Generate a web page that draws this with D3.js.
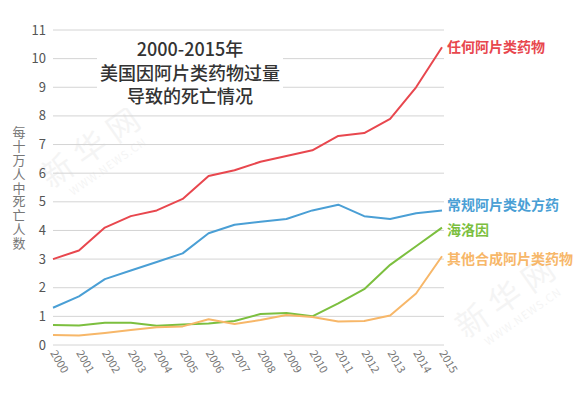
<!DOCTYPE html>
<html>
<head>
<meta charset="utf-8">
<script src="https://cdn.jsdelivr.net/npm/d3@7"></script>
<style>
  body { margin: 0; background: #fff; }
  text { font-family: "Noto Sans CJK SC", "Noto Sans", sans-serif; }
</style>
</head>
<body>
<div id="chart"></div>
<script>
// --------------------------------------
//  Data
// --------------------------------------
const years = [2000, 2001, 2002, 2003, 2004, 2005, 2006, 2007, 2008, 2009, 2010, 2011, 2012, 2013, 2014, 2015];
const anyOpioid = [3.0, 3.3, 4.1, 4.5, 4.7, 5.1, 5.9, 6.1, 6.4, 6.6, 6.8, 7.3, 7.4, 7.9, 9.0, 10.4];
const prescription = [1.3, 1.7, 2.3, 2.6, 2.9, 3.2, 3.9, 4.2, 4.3, 4.4, 4.7, 4.9, 4.5, 4.4, 4.6, 4.7];
const heroin = [0.7, 0.68, 0.78, 0.78, 0.67, 0.72, 0.75, 0.84, 1.08, 1.12, 1.0, 1.45, 1.95, 2.8, 3.45, 4.1];
const synthetic = [0.35, 0.33, 0.42, 0.52, 0.62, 0.65, 0.9, 0.73, 0.87, 1.05, 0.98, 0.82, 0.84, 1.03, 1.8, 3.1];
const seriesNames = ["任何阿片类药物", "常规阿片类处方药", "海洛因", "其他合成阿片类药物"];
const seriesColors = ["#e8474e", "#4a9fd5", "#7cbf3f", "#f7b769"];
const yTicks = [0, 1, 2, 3, 4, 5, 6, 7, 8, 9, 10, 11];
const titleLines = ["2000-2015年", "美国因阿片类药物过量", "导致的死亡情况"];
const yTitle = "每十万人中死亡人数";

const width = 580, height = 399;
const margin = {top: 30, right: 138, bottom: 54, left: 53};

// --------------------------------------
//  Canvas
// --------------------------------------
const svg = d3.select("#chart")
  .append("svg")
    .attr("width", width)
    .attr("height", height)
    .attr("viewBox", [0, 0, width, height]);

const x = d3.scalePoint()
    .domain(years)
    .range([margin.left, width - margin.right]);

const y = d3.scaleLinear()
    .domain([0, 11])
    .range([height - margin.bottom, margin.top]);

// watermarks
[[100, 155], [515, 305]].forEach(([wx, wy]) => {
  const g = svg.append("g")
      .attr("transform", `translate(${wx},${wy}) rotate(-35)`)
      .attr("fill", "#000")
      .attr("opacity", 0.04);
  g.append("text")
      .attr("text-anchor", "middle")
      .attr("font-size", 32)
      .attr("letter-spacing", 8)
      .text("新华网");
  g.append("text")
      .attr("y", 18)
      .attr("text-anchor", "middle")
      .attr("font-size", 11)
      .attr("letter-spacing", 1)
      .text("WWW.NEWS.CN");
});

// grid lines
svg.append("g")
  .selectAll("line")
  .data(yTicks)
  .join("line")
    .attr("x1", margin.left)
    .attr("x2", width - margin.right + 2)
    .attr("y1", d => y(d))
    .attr("y2", d => y(d))
    .attr("stroke", "#d4d4d4")
    .attr("stroke-width", 1);

// y tick labels
svg.append("g")
  .selectAll("text")
  .data(yTicks)
  .join("text")
    .attr("x", 46)
    .attr("y", d => y(d))
    .attr("dy", "0.35em")
    .attr("text-anchor", "end")
    .attr("font-family", "'Liberation Sans Narrow', 'DejaVu Sans Condensed', sans-serif")
    .attr("font-size", 13)
    .attr("fill", "#555")
    .text(d => d);

// y axis title (vertical)
svg.append("text")
    .attr("x", 19)
    .attr("y", 126)
    .attr("writing-mode", "vertical-rl")
    .attr("style", "writing-mode: vertical-rl; text-orientation: upright;")
    .attr("letter-spacing", 0.8)
    .attr("font-size", 13)
    .attr("fill", "#777")
    .text(yTitle);

// x labels
svg.append("g")
  .selectAll("text")
  .data(years)
  .join("text")
    .attr("transform", d => `translate(${x(d) - 3},${height - margin.bottom + 8}) rotate(60)`)
    .attr("font-family", "'Liberation Sans', Arial, sans-serif")
    .attr("font-size", 11)
    .attr("fill", "#777")
    .text(d => d);

// title box
svg.append("rect")
    .attr("x", 97)
    .attr("y", 36)
    .attr("width", 186)
    .attr("height", 72)
    .attr("fill", "#fff");

svg.append("g")
  .selectAll("text")
  .data(titleLines)
  .join("text")
    .attr("x", 190)
    .attr("y", (d, i) => 50 + i * 23.5)
    .attr("dy", "0.35em")
    .attr("text-anchor", "middle")
    .attr("font-size", 18)
    .attr("font-weight", 500)
    .attr("fill", "#333")
    .text(d => d);

// --------------------------------------
//  Lines
// --------------------------------------
const allSeries = [anyOpioid, prescription, heroin, synthetic];

const line = d3.line()
    .x((d, i) => x(years[i]))
    .y(d => y(d));

svg.append("g")
  .selectAll("path")
  .data(allSeries)
  .join("path")
    .attr("d", d => line(d))
    .attr("fill", "none")
    .attr("stroke", (d, i) => seriesColors[i])
    .attr("stroke-width", 2)
    .attr("stroke-linejoin", "round");

// end labels
const labelY = [10.4, 4.9, 4.0, 3.0];
svg.append("g")
  .selectAll("text")
  .data(seriesNames)
  .join("text")
    .attr("x", 447)
    .attr("y", (d, i) => y(labelY[i]))
    .attr("dy", "0.35em")
    .attr("font-size", 14)
    .attr("font-weight", "bold")
    .attr("fill", (d, i) => seriesColors[i])
    .text(d => d);
</script>
</body>
</html>
